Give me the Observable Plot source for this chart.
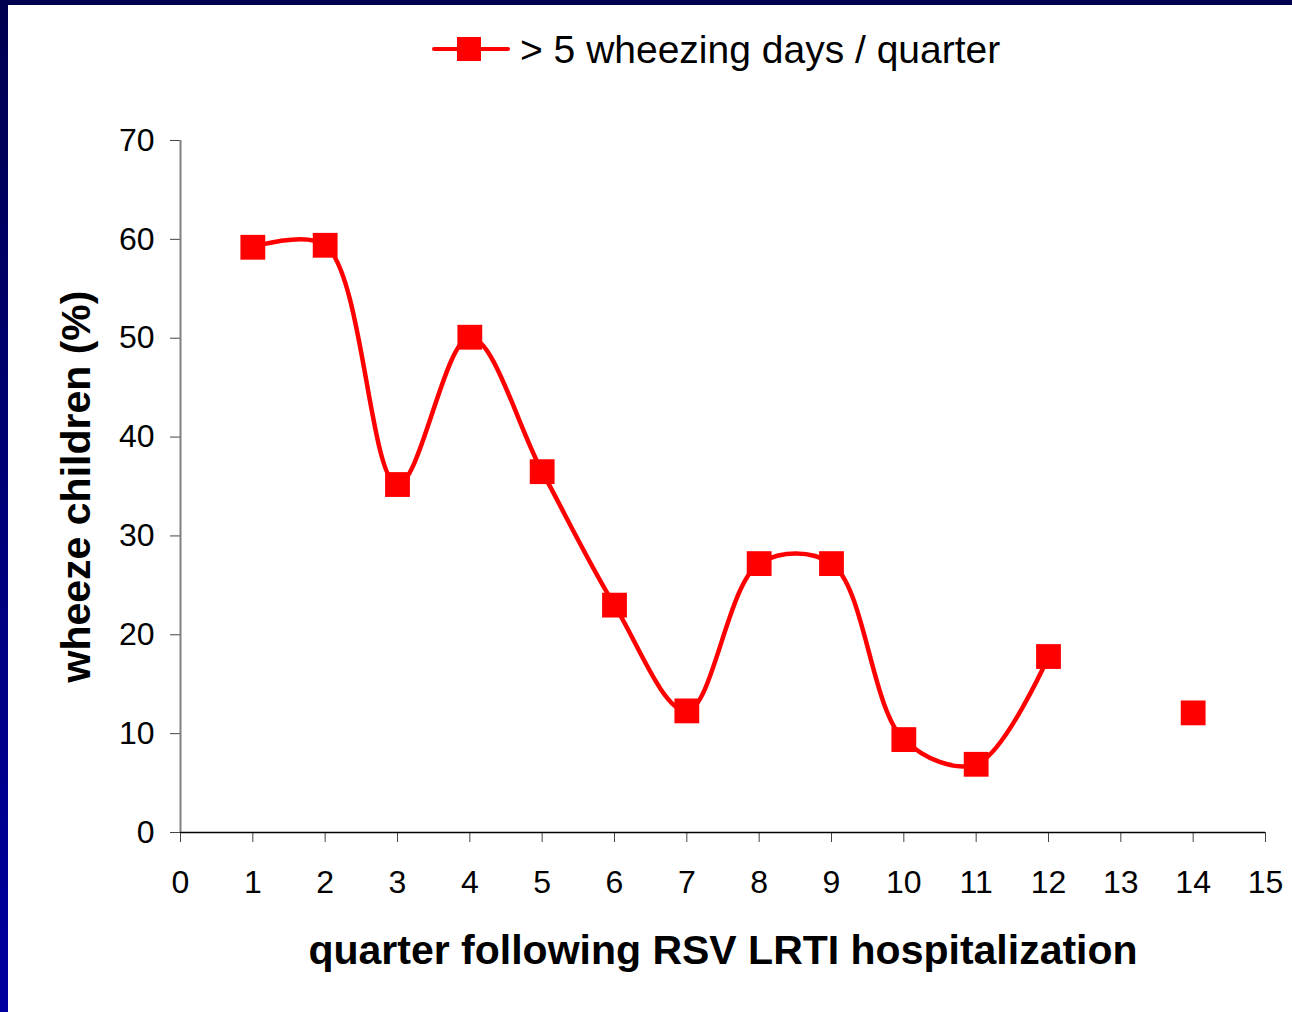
<!DOCTYPE html>
<html>
<head>
<meta charset="utf-8">
<script src="https://cdn.jsdelivr.net/npm/d3@7"></script>
<script src="https://cdn.jsdelivr.net/npm/@observablehq/plot@0.6"></script>
<style>
  html, body { margin: 0; padding: 0; background: #fff; }
  #page { position: relative; width: 1292px; height: 1012px; overflow: hidden; background: #fff;
          font-family: "Liberation Sans", Arial, sans-serif; }
  #topbar { position: absolute; left: 0; top: 0; width: 1292px; height: 5px; background: #000050; z-index: 3; }
  #leftbar { position: absolute; left: 0; top: 0; width: 8px; height: 1012px;
             background: linear-gradient(to bottom, #000050, #0000a0); z-index: 3; }
  #legend { position: absolute; left: 432px; top: 26px; height: 48px; display: flex; align-items: center;
            font-size: 39px; line-height: 48px; color: #000; white-space: nowrap; }
  #swatch { position: relative; width: 78px; height: 48px; margin-right: 10px; }
  #swatch .ln { position: absolute; left: 0; top: 21px; width: 78px; height: 4px; background: #ff0000; border-radius: 2px; }
  #swatch .sq { position: absolute; left: 25px; top: 11px; width: 24px; height: 24px; background: #ff0000; }
  #chart { position: absolute; left: 0; top: 95px; }
</style>
</head>
<body>
<div id="page">
  <div id="topbar"></div>
  <div id="leftbar"></div>
  <div id="legend"><div id="swatch"><div class="ln"></div><div class="sq"></div></div><span id="legendText"></span></div>
  <div id="chart"></div>
</div>
<script>
const seriesName = "> 5 wheezing days / quarter";
const quarters = [1, 2, 3, 4, 5, 6, 7, 8, 9, 10, 11, 12, 13, 14];
const wheeze = [59.2, 59.4, 35.2, 50.1, 36.5, 23.0, 12.3, 27.2, 27.2, 9.4, 6.9, 17.8, null, 12.1];
const xTicks = [0, 1, 2, 3, 4, 5, 6, 7, 8, 9, 10, 11, 12, 13, 14, 15];
const yTicks = [0, 10, 20, 30, 40, 50, 60, 70];
const xTitle = "quarter following RSV LRTI hospitalization";
const yTitle = "wheeze children (%)";

document.getElementById("legendText").textContent = seriesName;

const data = quarters.map((q, i) => ({q, v: wheeze[i]}));
const pts = data.filter(d => d.v != null);

const chart = Plot.plot({
  width: 1292,
  height: 917,
  marginLeft: 180,
  marginRight: 27,
  marginTop: 45,
  marginBottom: 180,
  style: {fontFamily: "'Liberation Sans', Arial, sans-serif", background: "transparent", overflow: "visible"},
  x: {domain: [0, 15]},
  y: {domain: [0, 70]},
  marks: [
    Plot.axisX({ticks: xTicks, tickSize: 10, tickPadding: 28, fontSize: 32, stroke: "#444", label: null, tickFormat: d => String(d), color: "#000"}),
    Plot.axisY({ticks: yTicks, tickSize: 10, tickPadding: 16, fontSize: 32, stroke: "#444", label: null, tickFormat: d => String(d), color: "#000"}),
    Plot.ruleX([0], {stroke: "#808080", strokeWidth: 2}),
    Plot.ruleY([0], {stroke: "#000", strokeWidth: 1.5}),
    Plot.line(data, {x: "q", y: "v", stroke: "#ff0000", strokeWidth: 4.5, curve: "catmull-rom"}),
    Plot.dot(pts, {x: "q", y: "v", symbol: "square", r: 14, fill: "#ff0000", stroke: "none"}),
    Plot.text([xTitle], {frameAnchor: "bottom", textAnchor: "middle", dy: 131, fontSize: 41, fontWeight: "bold", fill: "#000"}),
    Plot.text([yTitle], {frameAnchor: "left", textAnchor: "middle", dx: -104, rotate: -90, fontSize: 41, fontWeight: "bold", fill: "#000"})
  ]
});
document.getElementById("chart").appendChild(chart);
</script>
</body>
</html>
